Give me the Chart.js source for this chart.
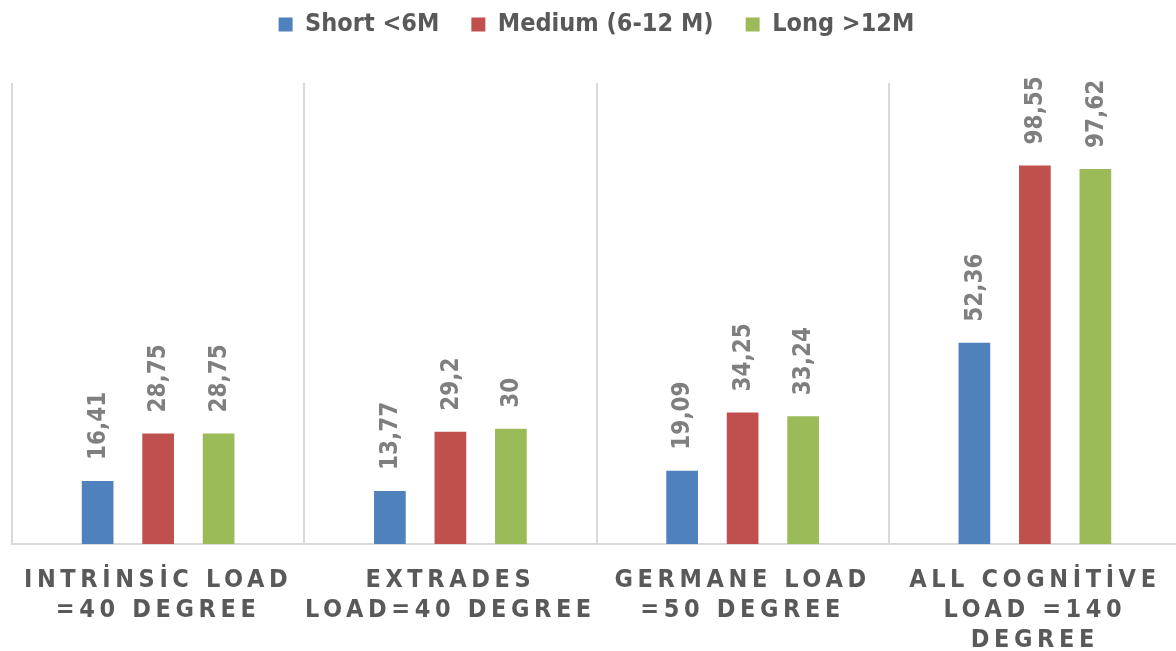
<!DOCTYPE html>
<html>
<head>
<meta charset="utf-8">
<script src="https://cdn.jsdelivr.net/npm/chart.js@4/dist/chart.umd.min.js"></script>
<style>
    body { margin: 0; background: #fff; overflow: hidden; }
    #wrap { width: 1194px; height: 651px; }
</style>
</head>
<body>
<div id="wrap"><canvas id="myChart"></canvas></div>
<script>
const categories = [
    ['INTRİNSİC LOAD', '=40 DEGREE'],
    ['EXTRADES', 'LOAD=40 DEGREE'],
    ['GERMANE LOAD', '=50 DEGREE'],
    ['ALL COGNİTİVE', 'LOAD =140', 'DEGREE']
];
const shortValues = [16.41, 13.77, 19.09, 52.36];
const mediumValues = [28.75, 29.2, 34.25, 98.55];
const longValues = [28.75, 30, 33.24, 97.62];

const fontFamily = "'DejaVu Sans Condensed', 'DejaVu Sans', sans-serif";

// rotated value labels above each bar
const barLabels = {
    id: 'barLabels',
    afterDatasetsDraw(chart) {
        const ctx = chart.ctx;
        chart.data.datasets.forEach((ds, i) => {
            const meta = chart.getDatasetMeta(i);
            meta.data.forEach((bar, j) => {
                const text = String(ds.data[j]).replace('.', ',');
                ctx.save();
                ctx.translate(bar.x + 1, bar.y - 21);
                ctx.rotate(-Math.PI / 2);
                ctx.font = 'bold 24px ' + fontFamily;
                ctx.fillStyle = '#7f7f7f';
                ctx.textAlign = 'left';
                ctx.textBaseline = 'middle';
                ctx.fillText(text, 0, 0);
                ctx.restore();
            });
        });
    }
};

// spaced-out category labels, legend pulled up to the top edge
const tweaks = {
    id: 'tweaks',
    afterLayout(chart) {
        if (chart.legend) chart.legend.top -= 36;
    },
    beforeDraw(chart) {
        const s = chart.scales.x;
        if (s && !s._spaced) {
            const orig = s.drawLabels.bind(s);
            s.drawLabels = function (area) {
                chart.ctx.save();
                chart.ctx.letterSpacing = '4.6px';
                orig(area);
                chart.ctx.restore();
            };
            s._spaced = true;
        }
    }
};

const ctx = document.getElementById('myChart').getContext('2d');
const myChart = new Chart(ctx, {
    type: 'bar',
    data: {
        labels: categories,
        datasets: [{
            label: 'Short <6M',
            data: shortValues,
            backgroundColor: '#4f81bd'
        }, {
            label: 'Medium (6-12 M)',
            data: mediumValues,
            backgroundColor: '#c0504d'
        }, {
            label: 'Long >12M',
            data: longValues,
            backgroundColor: '#9bbb59'
        }]
    },
    options: {
        responsive: true,
        maintainAspectRatio: false,
        animation: false,
        categoryPercentage: 0.621,
        barPercentage: 0.524,
        layout: {
            padding: { left: 12, right: 13, top: 16, bottom: 0 }
        },
        plugins: {
            legend: {
                position: 'top',
                labels: {
                    boxWidth: 14,
                    boxHeight: 14,
                    padding: 32,
                    color: '#595959',
                    font: { family: fontFamily, size: 25, weight: 'bold' }
                }
            },
            tooltip: { enabled: false }
        },
        scales: {
            x: {
                grid: {
                    color: '#d9d9d9',
                    lineWidth: 2,
                    drawTicks: false,
                    offset: true
                },
                border: { color: '#d9d9d9', width: 2 },
                ticks: {
                    color: '#595959',
                    padding: 21,
                    maxRotation: 0,
                    autoSkip: false,
                    font: { family: fontFamily, size: 25, weight: 'bold', lineHeight: 1.2 }
                },
                afterFit(scale) {
                    scale.height = 107;
                }
            },
            y: {
                display: false,
                min: 0,
                max: 120
            }
        }
    },
    plugins: [barLabels, tweaks]
});
</script>
</body>
</html>
